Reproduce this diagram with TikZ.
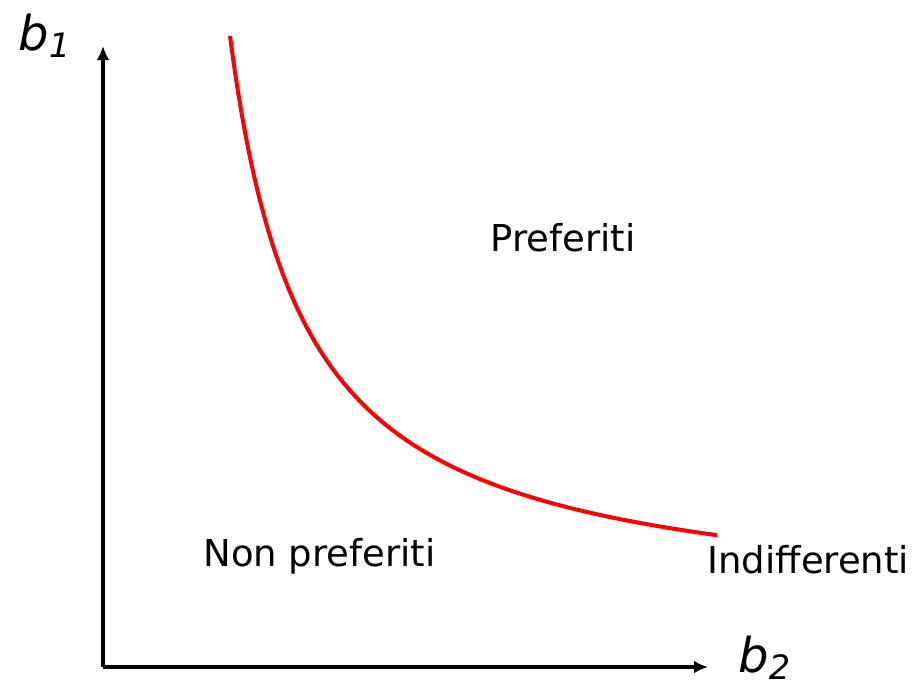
\documentclass[tikz,border=0pt]{standalone}
\usepackage{fontspec}
\setmainfont{DejaVu Sans}
\usetikzlibrary{arrows.meta, positioning}
\tikzstyle{axis} = [line width=2pt,-{Latex[length=7pt,width=6.5pt]}]
\tikzstyle{curve} = [line width=2pt, red]
\tikzstyle{region} = [inner sep=0pt, font=\fontsize{18.5}{22}\selectfont]
\tikzstyle{axlabel} = [inner sep=0pt, font=\fontsize{24}{28}\selectfont\itshape]

\begin{document}
\begin{tikzpicture}[x=0.5pt,y=-0.5pt]
\useasboundingbox (0,0) rectangle (916,685);

% Axes
\coordinate (origin) at (103,667);
\coordinate (ytop) at (103,46);
\coordinate (xend) at (708,667);
\draw [axis] (origin) -- (ytop);
\draw [axis] (origin) -- (xend);

% Axis labels
\node (b1) [axlabel, anchor=base west] at (18,50) {b\textsubscript{1}};
\node (b2) [axlabel, anchor=base west] at (738,672) {b\textsubscript{2}};

% Indifference curve
\draw [curve] plot[domain=230:717, samples=240, smooth] (\x, {612-432/((\x-155)/100)});

% Regions
\node (pref) [region, anchor=base west] at (490,251) {Preferiti};
\node (nonpref) [region, anchor=base west] at (203,566) {Non preferiti};
\node (indiff) [region, anchor=base west] at (707,573) {Indifferenti};

\end{tikzpicture}
\end{document}
